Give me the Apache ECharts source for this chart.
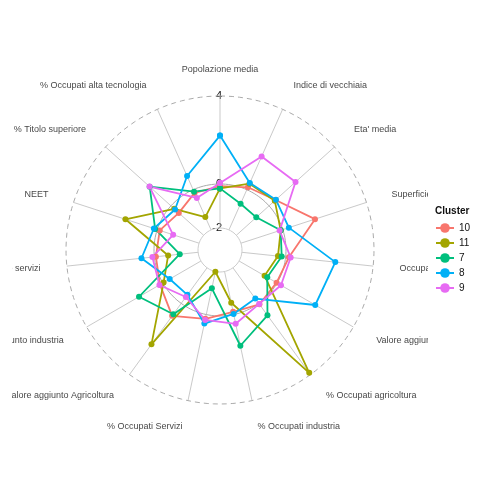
<!DOCTYPE html>
<html>
<head>
    <meta charset="utf-8">
    <style>
        body { margin: 0; background: #fff; }
        #clip { position: absolute; left: 12px; top: 0; width: 416px; height: 504px; overflow: hidden; }
        #main { position: absolute; left: -12px; top: 0; width: 504px; height: 504px; }
        #leg { position: absolute; left: 430px; top: 0; width: 74px; height: 504px; }
    </style>
</head>
<body>
<div id="clip"><div id="main"></div></div>
<div id="leg"></div>
<script src="https://cdn.jsdelivr.net/npm/echarts@6/dist/echarts.min.js"></script>
<script type="text/javascript">
    var indicators = ['Popolazione media', 'Indice di vecchiaia', "Eta' media", 'Superficie', 'Occupati',
        'Valore aggiunto', '% Occupati agricoltura', '% Occupati industria', '% Occupati Servizi',
        'Valore aggiunto Agricoltura', 'Valore aggiunto industria', 'Valore aggiunto servizi', 'NEET',
        '% Titolo superiore', '% Occupati alta tecnologia'];
    var clusters = ['10', '11', '7', '8', '9'];
    var c10 = [-0.1, 0.12, 0.4, 1.54, 0.15, -0.03, 0.05, -0.13, 0.2, 0.7, 0.15, -0.07, -0.12, -0.48, -0.16];
    var c11 = [-0.2, 0.3, 0.35, -0.1, -0.35, -0.66, 3.9, -0.55, -1.99, 2.3, -0.04, -0.63, 1.52, -0.2, -1.36];
    var c7 = [-0.2, -0.7, -0.78, -0.1, -0.18, -0.52, 0.67, 1.45, -1.22, 0.61, 1.25, -1.16, 0.1, 1.3, -0.1];
    var c8 = [2.2, 0.33, 0.42, 0.29, 2.27, 2.0, -0.27, -0.03, 0.42, -0.48, -0.36, 0.59, 0.16, -0.25, 0.68];
    var c9 = [0.05, 1.65, 1.62, -0.15, 0.23, 0.2, 0.03, 0.43, 0.25, -0.36, 0.18, 0.09, -0.76, 1.31, -0.41];
    var values = [c10, c11, c7, c8, c9];
    var colors = ['#F8766D', '#A3A500', '#00BF7D', '#00B0F6', '#E76BF3'];
    var gridLevels = [-2, 0, 4];
    var labelLevel = 5.2;
    var n = indicators.length;

    var series = [];
    // spokes
    var spokes = [];
    for (var k = 0; k < n; k++) {
        spokes.push([-2, k], [4, k], null);
    }
    series.push({ type: 'line', coordinateSystem: 'polar', data: spokes, symbol: 'none', silent: true,
        lineStyle: { color: '#bbbbbb', width: 0.8 }, connectNulls: false });
    // grid circles
    gridLevels.forEach(function (lv, i) {
        var pts = [];
        for (var a = 0; a <= n * 10; a++) pts.push([lv, a / 10]);
        series.push({ type: 'line', coordinateSystem: 'polar', data: pts, symbol: 'none', silent: true,
            lineStyle: { color: i === 0 ? '#cccccc' : '#aaaaaa', width: 1, type: i === 2 ? [5, 4] : 'solid' } });
    });
    // indicator names
    series.push({
        type: 'scatter', coordinateSystem: 'polar', symbolSize: 0, silent: true,
        data: indicators.map(function (name, k) {
            return { value: [labelLevel, k], name: name,
                label: { align: k === 0 ? 'center' : (k < 8 ? 'left' : 'right') } };
        }),
        label: { show: true, position: 'inside', verticalAlign: 'middle', formatter: '{b}',
            fontSize: 9, color: '#111', fontFamily: 'Liberation Sans' }
    });
    clusters.forEach(function (name, i) {
        var d = values[i].map(function (v, k) { return [v, k]; });
        d.push([values[i][0], n]);
        series.push({ name: name, type: 'line', coordinateSystem: 'polar', data: d,
            symbol: 'circle', symbolSize: 6, color: colors[i], lineStyle: { width: 1.8 } });
    });

    var myChart = echarts.init(document.getElementById('main'));
    myChart.setOption({
        animation: false,
        polar: { center: [220, 250], radius: 187 },
        angleAxis: {
            type: 'value', min: 0, max: n, interval: 1, startAngle: 90, clockwise: true,
            axisLine: { show: false }, axisTick: { show: false }, splitLine: { show: false },
            axisLabel: { show: false }
        },
        radiusAxis: {
            type: 'value', min: -3, max: 5.5, interval: 1,
            axisLine: { show: false }, axisTick: { show: false }, splitLine: { show: false },
            axisLabel: {
                fontSize: 11, color: '#111', margin: -2, fontFamily: 'Liberation Sans',
                formatter: function (v) { return gridLevels.indexOf(v) >= 0 ? String(v) : ''; }
            }
        },
        series: series
    });

    var legChart = echarts.init(document.getElementById('leg'));
    legChart.setOption({
        animation: false,
        title: { text: 'Cluster', left: 0, top: 201, textStyle: { fontSize: 10, fontWeight: 'bold', color: '#111', fontFamily: 'Liberation Sans' } },
        legend: { orient: 'vertical', left: 0, top: 218, itemGap: 5, itemWidth: 18, itemHeight: 12,
            textStyle: { fontSize: 10, color: '#111', fontFamily: 'Liberation Sans' }, data: clusters },
        xAxis: { show: false }, yAxis: { show: false },
        grid: { left: 0, right: 0, top: 0, bottom: 0 },
        series: clusters.map(function (name, i) {
            return { name: name, type: 'line', data: [], symbol: 'circle', symbolSize: 6, color: colors[i] };
        })
    });
</script>
</body>
</html>
